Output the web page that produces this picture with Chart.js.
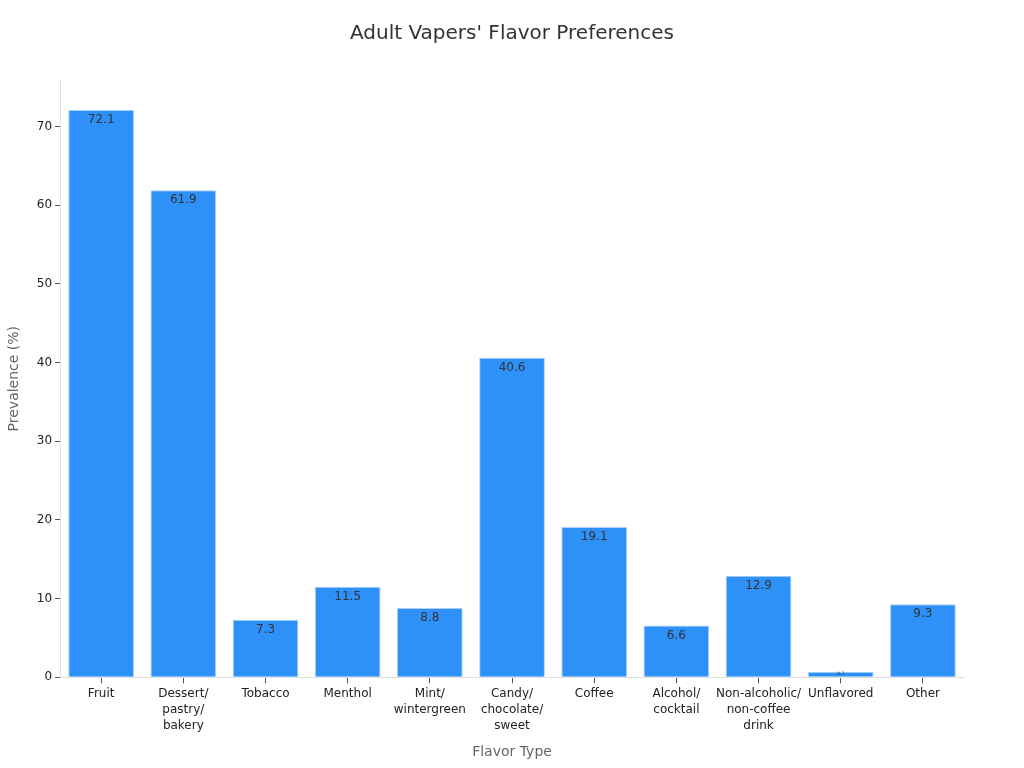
<!DOCTYPE html>
<html><head><meta charset="utf-8">
<script src="https://cdn.jsdelivr.net/npm/chart.js@4.4.0/dist/chart.umd.min.js"></script>
<style>html,body{margin:0;padding:0;background:#fff;}#wrap{width:1024px;height:768px;}</style>
</head><body><div id="wrap"><canvas id="c" width="1024" height="768"></canvas></div>
<script>
const titleText = "Adult Vapers' Flavor Preferences";
const categories = [["Fruit"],["Dessert/","pastry/","bakery"],["Tobacco"],["Menthol"],["Mint/","wintergreen"],["Candy/","chocolate/","sweet"],["Coffee"],["Alcohol/","cocktail"],["Non-alcoholic/","non-coffee","drink"],["Unflavored"],["Other"]];
const values = [72.1,61.9,7.3,11.5,8.8,40.6,19.1,6.6,12.9,0.7,9.3];
const yTicks = [0,10,20,30,40,50,60,70];

const labelPlugin = {
  id:'lbl',
  afterDatasetsDraw(chart){
    const ctx = chart.ctx;
    const meta = chart.getDatasetMeta(0);
    ctx.save();
    ctx.textAlign='center';
    ctx.textBaseline='middle';
    ctx.fillStyle='#333333';
    meta.data.forEach((bar,i)=>{
      const h = bar.base - bar.y;
      let fs = 12;
      if (h < 18) fs = Math.max(4, h*0.9);
      ctx.font = fs + 'px "DejaVu Sans"';
      const y = h < 18 ? bar.y + h/2 : bar.y + 10;
      ctx.fillText(values[i].toFixed(1), bar.x, y);
    });
    ctx.restore();
  },
  afterDraw(chart){
    const ctx = chart.ctx;
    ctx.save();
    ctx.textAlign='center';
    ctx.textBaseline='middle';
    ctx.fillStyle='#333333';
    ctx.font='20px "DejaVu Sans"';
    ctx.fillText(titleText, chart.width/2, 34);
    ctx.restore();
  }
};

new Chart(document.getElementById('c'),{
  type:'bar',
  data:{labels:categories,datasets:[{data:values,backgroundColor:'#2e91f8',borderColor:'#a9d1fb',borderWidth:1,categoryPercentage:0.8,barPercentage:1.0}]},
  options:{
    responsive:false,animation:false,
    layout:{padding:{left:2,right:60,top:80,bottom:3}},
    plugins:{legend:{display:false},tooltip:{enabled:false},title:{display:false}},
    scales:{
      x:{grid:{display:true,offset:false,drawOnChartArea:false,drawTicks:true,tickLength:6,color:'#555555'},border:{color:'#dddddd'},
        ticks:{color:'#222222',font:{family:'DejaVu Sans',size:12,lineHeight:1.33},maxRotation:0,autoSkip:false,padding:3},
        title:{display:true,text:'Flavor Type',color:'#666666',font:{family:'DejaVu Sans',size:14},padding:{top:7}}},
      y:{min:0,max:75.9,afterBuildTicks(ax){ax.ticks=yTicks.map(v=>({value:v}));},
        grid:{display:true,drawOnChartArea:false,drawTicks:true,tickLength:5,color:'#555555'},border:{color:'#dddddd'},
        ticks:{color:'#222222',font:{family:'DejaVu Sans',size:12},padding:3},
        title:{display:true,text:'Prevalence (%)',color:'#666666',font:{family:'DejaVu Sans',size:14},padding:{bottom:11}}}
    }
  },
  plugins:[labelPlugin]
});
</script></body></html>
